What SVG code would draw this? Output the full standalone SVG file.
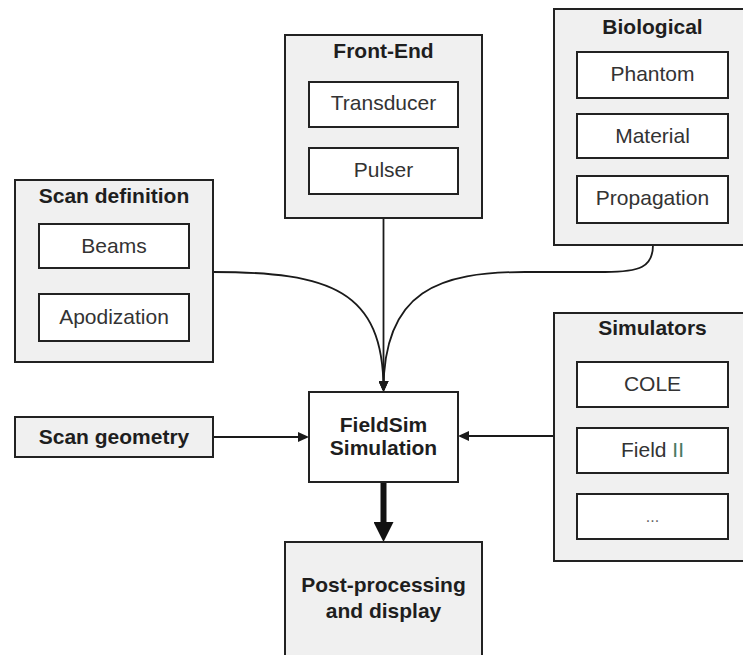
<svg xmlns="http://www.w3.org/2000/svg" width="743" height="655" viewBox="0 0 743 655">
<style>
  .outer { fill: #f0f0f0; stroke: #222; stroke-width: 2; }
  .inner { fill: #ffffff; stroke: #222; stroke-width: 2; }
  .title { font-family: "Liberation Sans", Arial, sans-serif; font-size: 21px; font-weight: bold; fill: #1e1e1e; text-anchor: middle; }
  .label { font-family: "Liberation Sans", Arial, sans-serif; font-size: 21px; fill: #333; text-anchor: middle; }
  .conn { fill: none; stroke: #1a1a1a; stroke-width: 1.8; }
</style>
<defs>
  <marker id="arr" markerUnits="userSpaceOnUse" markerWidth="11" markerHeight="10" refX="9" refY="5" orient="auto">
    <path d="M0,0 L11,5 L0,10 z" fill="#1a1a1a"/>
  </marker>
  <marker id="arrBig" markerUnits="userSpaceOnUse" markerWidth="20" markerHeight="20" refX="2" refY="10" orient="auto">
    <path d="M0,0 L20,10 L0,20 z" fill="#111"/>
  </marker>
</defs>
<rect width="743" height="655" fill="#ffffff"/>

<g id="connectors">
  <path class="conn" d="M383.5,218 L383.5,390" marker-end="url(#arr)"/>
  <path class="conn" d="M213,272 C330,272 383.5,290 383.5,390" marker-end="url(#arr)"/>
  <path class="conn" d="M653,245 C653,267 640,272 605,272 L525,272 C440,272 383.5,290 383.5,390" marker-end="url(#arr)"/>
  <path class="conn" d="M213,437 L307,437" marker-end="url(#arr)"/>
  <path class="conn" d="M554,436 L460,436" marker-end="url(#arr)"/>
  <path d="M383.5,482 L383.5,524" fill="none" stroke="#111" stroke-width="6" marker-end="url(#arrBig)"/>
</g>

<g id="scan-definition">
  <rect class="outer" x="15" y="180" width="198" height="182"/>
  <text class="title" x="114" y="203">Scan definition</text>
  <rect class="inner" x="39" y="224" width="150" height="44"/>
  <text class="label" x="114" y="253">Beams</text>
  <rect class="inner" x="39" y="294" width="150" height="47"/>
  <text class="label" x="114" y="324">Apodization</text>
</g>

<g id="front-end">
  <rect class="outer" x="285" y="35" width="197" height="183"/>
  <text class="title" x="383.5" y="58">Front-End</text>
  <rect class="inner" x="309" y="82" width="149" height="45"/>
  <text class="label" x="383.5" y="110">Transducer</text>
  <rect class="inner" x="309" y="148" width="149" height="46"/>
  <text class="label" x="383.5" y="177">Pulser</text>
</g>

<g id="biological">
  <rect class="outer" x="554" y="9" width="197" height="236"/>
  <text class="title" x="652.5" y="34">Biological</text>
  <rect class="inner" x="577" y="52" width="151" height="46"/>
  <text class="label" x="652.5" y="81">Phantom</text>
  <rect class="inner" x="577" y="114" width="151" height="44"/>
  <text class="label" x="652.5" y="143">Material</text>
  <rect class="inner" x="577" y="176" width="151" height="47"/>
  <text class="label" x="652.5" y="205">Propagation</text>
</g>

<g id="simulators">
  <rect class="outer" x="554" y="313" width="197" height="248"/>
  <text class="title" x="652.5" y="335">Simulators</text>
  <rect class="inner" x="577" y="362" width="151" height="45"/>
  <text class="label" x="652.5" y="391">COLE</text>
  <rect class="inner" x="577" y="428" width="151" height="45"/>
  <text class="label" x="652.5" y="457">Field <tspan fill="#4a7a62">II</tspan></text>
  <rect class="inner" x="577" y="494" width="151" height="45"/>
  <text class="label" x="652.5" y="522" style="font-size:16px;fill:#666">...</text>
</g>

<g id="scan-geometry">
  <rect class="outer" x="15" y="417" width="198" height="40"/>
  <text class="title" x="114" y="444">Scan geometry</text>
</g>

<g id="fieldsim">
  <rect class="inner" x="309" y="392" width="149" height="90"/>
  <text class="title" x="383.5" y="432">FieldSim</text>
  <text class="title" x="383.5" y="455">Simulation</text>
</g>

<g id="post-processing">
  <rect class="outer" x="285" y="542" width="197" height="130"/>
  <text class="title" x="383.5" y="592">Post-processing</text>
  <text class="title" x="383.5" y="618">and display</text>
</g>
</svg>
